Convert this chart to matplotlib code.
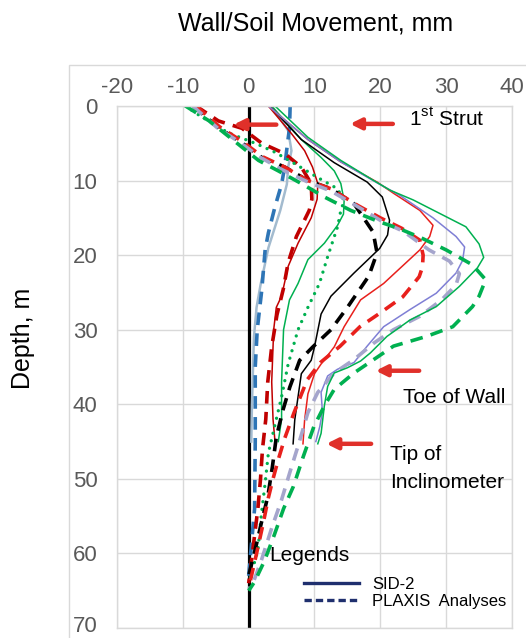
import matplotlib.pyplot as plt
import matplotlib.transforms as mtransforms
from matplotlib.lines import Line2D
from matplotlib.patches import Rectangle

# ---- data: wall / soil movement (mm) against depth (m) ----
# stage 1
sid1_x = [3.5, 6.0, 6.5, 6.0, 5.8, 4.8, 3.0, 1.8, 1.2, 0.8, 0.5, 0.4]
sid1_d = [0, 3.3, 6, 8.2, 10.5, 14, 19, 24, 27, 31, 40, 45]
fem1_x = [6.3, 6.2, 5.9, 5.5, 5.0, 4.0, 3.0, 2.5, 2.0, 1.3, 1.0, 1.0, 0.9, 0.5, 0.0]
fem1_d = [0, 3, 5, 8, 10.5, 13.5, 17, 19.3, 24.6, 30, 35, 45, 54, 58, 63]
# stage 2
sid2_x = [3, 6.5, 8.5, 9.7, 10.5, 10.4, 9.5, 7.5, 6, 5, 4.2, 3.8, 3.5, 3.7, 4.0]
sid2_d = [0, 3.7, 6, 8.2, 10.4, 12.5, 15, 18.4, 21.5, 25.5, 27, 30, 37, 42, 45]
fem2_x = [-8, -4.6, -1, 2, 5.5, 8, 9.5, 9.6, 9.2, 7.25, 6, 5.25, 4.3, 3.5, 2.9,
          2.6, 2.1, 1.8, 1.4, 0.7, 0.15, 0]
fem2_d = [0, 2, 3, 5, 6.4, 8.2, 10.4, 12.5, 14, 17.5, 21, 24.6, 28, 32.3, 37,
          42, 46, 50, 54, 59, 63, 64]
# stage 3
sid3_x = [3.5, 5.5, 8, 11, 13, 14, 14.5, 14.4, 13.5, 11.5, 9, 7.5, 6.2, 5.3, 5, 5, 4.5]
sid3_d = [0, 2, 4.5, 6.9, 8.7, 10.4, 12.7, 14.5, 16, 18.4, 20.6, 23.8, 26, 30, 37, 42, 45]
fem3_x = [-9.6, -7.6, -3.1, 1, 4, 7.5, 10.5, 13.5, 14.5, 14, 13.5, 12, 10.75, 9,
          7.5, 6, 5, 3.8, 3, 2.5, 1.9, 1.4, 0.4, 0]
fem3_d = [0, 1.2, 3.6, 5, 6.2, 8, 9.6, 11.1, 12.7, 14, 16.2, 20.2, 23.8, 27,
          30, 34.6, 39, 43.5, 46.5, 50.6, 55, 59.6, 62.7, 64]
# stage 4
sid4_x = [3.2, 8, 13, 18, 20.3, 21.4, 21.1, 19.9, 16, 12.5, 11, 10, 9.5, 8, 7.5, 7, 6.75]
sid4_d = [0, 4.5, 7.6, 10.2, 12.2, 15.3, 17.3, 19.1, 22.4, 25.5, 27.9, 32.3, 34.1,
          35.9, 39, 42.1, 45.3]
fem4_x = [-8.4, -4.6, -1.1, 2, 5.5, 9, 12.5, 16, 18.9, 19.5, 18.25, 15, 12.5, 9.75,
          7.75, 6.25, 5.2, 4.2, 3.6, 2.9, 1.9, 1.2, 0]
fem4_d = [0, 2.9, 4.9, 6.9, 8.2, 10, 11.1, 13.1, 16.9, 19.7, 22.8, 27, 30, 32.3,
          34.1, 37.7, 40.8, 44.4, 48.4, 52.4, 56, 58.7, 63]
# stage 5
sid5_x = [3, 9, 14, 19.5, 22, 26, 28, 27.5, 26, 20.5, 17, 14.5, 13, 11, 10, 9, 8.5, 8.25]
sid5_d = [0, 4.5, 7.5, 10.2, 11.7, 14, 16, 17.5, 19.3, 23.8, 26, 29.6, 32.3, 34.6,
          35.9, 38.6, 42.1, 45.3]
fem5_x = [-8, -4.4, -0.9, 2.1, 5.5, 9, 12.5, 16.5, 20, 23.25, 26, 26.5, 26.4, 25.9,
          23.4, 19.9, 16.9, 13.9, 10.9, 8.9, 7.9, 6.9, 5.5, 4.5, 3.7, 3, 2.2, 1.2, 0.3, 0]
fem5_d = [0, 2.8, 4.8, 6.8, 8.2, 10, 11.1, 13.3, 15, 16.4, 18, 20, 21.6, 22.9,
          25.6, 27.8, 29.6, 32.2, 34.4, 36.7, 38.9, 41.1, 44.5, 47.4, 50, 52.5, 56, 60, 63.5, 64.5]
# stage 6
sid6_x = [3, 9, 14, 19.5, 23, 28, 31.5, 32.8, 32.5, 31.5, 28.5, 24.5, 20.5, 18, 16,
          13.5, 12, 11, 11.2, 10.8, 10.2]
sid6_d = [0, 4.5, 7.5, 10.3, 12, 15, 17.5, 18.9, 20.7, 22.4, 25.1, 27.3, 29.6, 32.2,
          34.4, 35.3, 36.2, 38.4, 41, 43, 45]
fem6_x = [-8.5, -4.8, -1.3, 1.8, 5, 9, 12.5, 16, 20.5, 23.5, 27.4, 30.5, 32, 31.5,
          29.3, 26, 22, 19, 16, 13, 10.5, 9, 7.5, 6.3, 5, 3.5, 1.9, 0.65, 0]
fem6_d = [0, 2.9, 4.9, 6.9, 8.5, 10.2, 11.4, 13.2, 15.6, 16.8, 19.3, 20.8, 22.5, 24,
          26, 28.2, 30, 31.8, 34, 35.8, 38.4, 41.1, 45.6, 49, 52.8, 56.6, 61, 64, 64.8]
# stage 7
sid7_x = [4, 9, 14, 19, 21.5, 25, 29, 33, 35, 35.7, 34.75, 32, 28.5, 24.5, 21, 18.5,
          17, 15, 13, 12, 11.5, 11, 10.5]
sid7_d = [0, 4.2, 7.3, 10, 11.3, 12.6, 14.4, 16.2, 18.5, 20.3, 21.7, 24.2, 26.9,
          28.7, 30.9, 33.1, 34.2, 35.1, 35.8, 37.6, 40.2, 43.9, 45.3]
fem7_x = [-9.6, -6, -2.6, 1.5, 4.5, 8, 11.5, 15.5, 19.75, 22.75, 26.25, 30, 34, 36,
          35, 34, 31, 27, 22, 19, 16, 13, 11.5, 9.9, 8.3, 6.8, 5.3, 3.9, 2.4, 0.9, 0]
fem7_d = [0, 2, 4.4, 7.3, 8.7, 10.4, 12.2, 14, 15.5, 16.4, 17.7, 19.3, 21.3, 23.3,
          25.5, 26.9, 29.6, 30.9, 32.2, 34, 35.8, 38, 40.2, 43, 47, 51, 54, 57.5, 61, 63.8, 65]

x_ticks = [-20, -10, 0, 10, 20, 30, 40]
y_ticks = [0, 10, 20, 30, 40, 50, 60, 70]

# ---- style ----
plt.rcParams['font.family'] = ['Liberation Sans', 'DejaVu Sans']
plt.rcParams['mathtext.fontset'] = 'custom'
plt.rcParams['mathtext.rm'] = 'Liberation Sans'
plt.rcParams['axes.unicode_minus'] = False

W, H = 526, 638
fig = plt.figure(figsize=(W / 100, H / 100), dpi=100)
fig.patches.append(Rectangle((69 / W, -0.1), 1.0, 0.1 + 1 - 65 / H,
                             transform=fig.transFigure, fill=False,
                             edgecolor='#d9d9d9', lw=1.0))
ax = fig.add_axes([117 / W, 1 - 628 / H, (512 - 117) / W, (628 - 106) / H])

grid_c = '#d9d9d9'
dash = (0, (3.5, 2.3))
dots = (0, (0.01, 2.3))

ax.axvline(0, color='black', lw=2.3, zorder=2)

ax.plot(sid1_x, sid1_d, color='#a3bbcf', lw=1.8)
ax.plot(fem1_x, fem1_d, color='#2e75b6', lw=2.6, ls=dash)
ax.plot(sid2_x, sid2_d, color='#c00000', lw=1.1)
ax.plot(fem2_x, fem2_d, color='#c00000', lw=2.6, ls=dash)
ax.plot(sid3_x, sid3_d, color='#00b050', lw=1.1)
ax.plot(fem3_x, fem3_d, color='#00b050', lw=2.4, ls=dots, dash_capstyle='round')
ax.plot(sid4_x, sid4_d, color='black', lw=1.1)
ax.plot(fem4_x, fem4_d, color='black', lw=2.6, ls=dash)
ax.plot(sid5_x, sid5_d, color='#e8201c', lw=1.1)
ax.plot(fem5_x, fem5_d, color='#e8201c', lw=2.6, ls=dash)
ax.plot(sid6_x, sid6_d, color='#7f7fd5', lw=1.1)
ax.plot(fem6_x, fem6_d, color='#a5a5cc', lw=2.6, ls=dash)
ax.plot(sid7_x, sid7_d, color='#00b050', lw=1.1)
ax.plot(fem7_x, fem7_d, color='#00b050', lw=2.6, ls=dash)

ax.set_xlim(-20, 40)
ax.set_ylim(70, 0)
ax.set_xticks(x_ticks)
ax.set_yticks(y_ticks)
ax.xaxis.tick_top()
ax.tick_params(length=0, labelsize=16, labelcolor='#595959')
ax.tick_params(axis='x', pad=6)
ax.tick_params(axis='y', pad=14)
ax.grid(True, color=grid_c, lw=1.0)
ax.set_axisbelow(True)
for s in ax.spines.values():
    s.set_color(grid_c)
    s.set_linewidth(1.0)

# keep the last depth label inside the picture
last = ax.get_yticklabels()[-1]
last.set_transform(last.get_transform() +
                   mtransforms.ScaledTranslation(0, 4 / 100, fig.dpi_scale_trans))

# ---- annotations ----
red = '#e0302a'
arrow = dict(arrowstyle='-|>', color=red, lw=3.2, mutation_scale=16,
             shrinkA=0, shrinkB=0)
ax.annotate('', xy=(-2.3, 2.5), xytext=(4.2, 2.5), arrowprops=arrow)
ax.annotate('', xy=(15.4, 2.4), xytext=(21.9, 2.4), arrowprops=arrow)
ax.annotate('', xy=(19.3, 35.5), xytext=(25.9, 35.5), arrowprops=arrow)
ax.annotate('', xy=(11.8, 45.3), xytext=(18.6, 45.3), arrowprops=arrow)

ax.text(24.4, 1.7, r'1$^{\mathrm{st}}$ Strut', fontsize=15, va='center', ha='left')
ax.text(23.4, 39.1, 'Toe of Wall', fontsize=15, va='center', ha='left')
ax.text(21.5, 46.8, 'Tip of', fontsize=15, va='center', ha='left')
ax.text(21.5, 50.5, 'Inclinometer', fontsize=15, va='center', ha='left')
ax.text(3.2, 60.3, 'Legends', fontsize=15, va='center', ha='left')

navy = '#1f2f6e'
handles = [Line2D([], [], color=navy, lw=2.4),
           Line2D([], [], color=navy, lw=2.4, ls=(0, (2.2, 1.2)))]
ax.legend(handles, ['SID-2', 'PLAXIS  Analyses'], loc='upper left',
          bbox_to_anchor=(0.473, 0.098), frameon=False, fontsize=12,
          handlelength=3.3, handletextpad=0.8, labelspacing=0.1,
          borderpad=0, borderaxespad=0)

fig.text(316 / W, 1 - 23 / H, 'Wall/Soil Movement, mm', fontsize=18,
         ha='center', va='center')
fig.text(23 / W, 1 - 338 / H, 'Depth, m', fontsize=18, rotation=90,
         ha='center', va='center')

fig.savefig('out.png', dpi=100)
